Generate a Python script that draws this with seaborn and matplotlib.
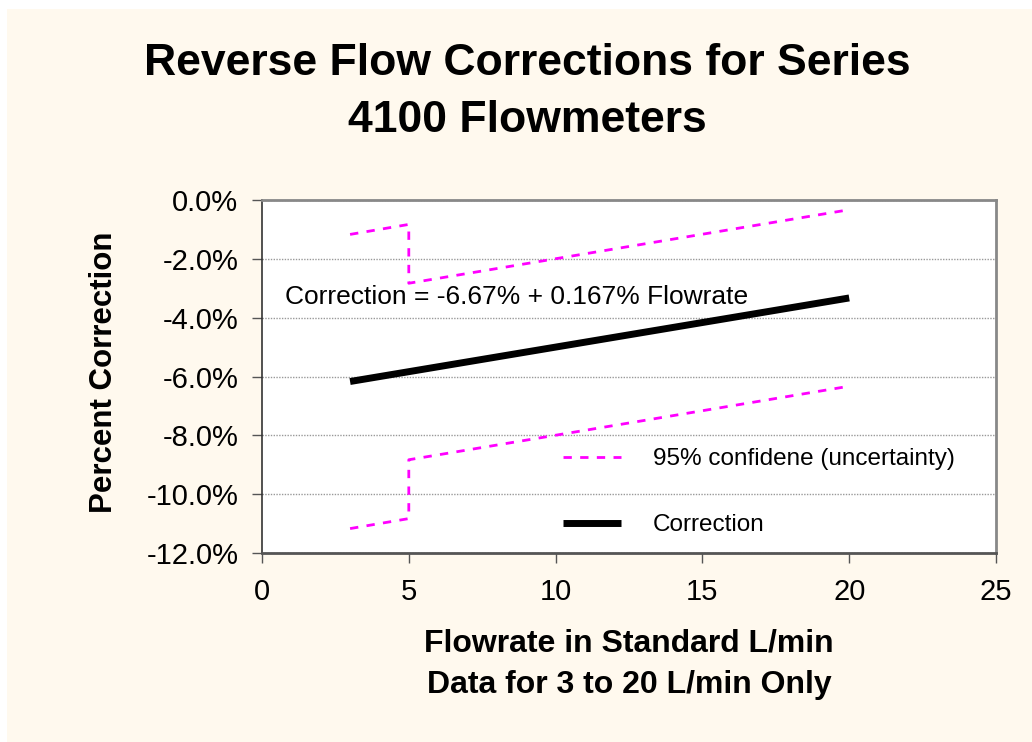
import matplotlib
matplotlib.use("Agg")
import matplotlib.pyplot as plt
import matplotlib.patches as mpatches
import seaborn as sns
import pandas as pd
from matplotlib.ticker import FuncFormatter, MultipleLocator

# ---- data ----
corr_flow = [3, 20]
corr_pct = [-6.17, -3.33]
band_flow = [3, 5, 5, 20]
band_upper = [-1.17, -0.83, -2.83, -0.33]
band_lower = [-11.17, -10.83, -8.83, -6.33]
title_text = "Reverse Flow Corrections for Series\n4100 Flowmeters"
xlabel_text = "Flowrate in Standard L/min\nData for 3 to 20 L/min Only"
ylabel_text = "Percent Correction"
eq_text = "Correction = -6.67% + 0.167% Flowrate"
band_label = "95% confidene (uncertainty)"
corr_label = "Correction"

sns.set_theme(style="white")
plt.rcParams['font.family'] = ['Liberation Sans', 'DejaVu Sans']
plt.rcParams['text.color'] = 'black'
plt.rcParams['axes.labelcolor'] = 'black'

W, H = 1032, 742
fig = plt.figure(figsize=(W / 100, H / 100), dpi=100, facecolor="white")
fig.patches.append(mpatches.Rectangle((7 / W, 0), 1 - 7 / W, 1 - 9 / H,
                                      transform=fig.transFigure,
                                      facecolor="#FFF9EE", edgecolor="none", zorder=-10))

ax = fig.add_axes([262 / W, 1 - 553 / H, (996 - 262) / W, (553 - 200) / H])
ax.set_zorder(5)
ax.set_facecolor("white")

df_up = pd.DataFrame({"x": band_flow, "y": band_upper})
df_lo = pd.DataFrame({"x": band_flow, "y": band_lower})
df_c = pd.DataFrame({"x": corr_flow, "y": corr_pct})

sns.lineplot(data=df_up, x="x", y="y", ax=ax, sort=False, estimator=None,
             color="#FF00FF", lw=2.0, linestyle=(0, (3, 3)),
             label=band_label, zorder=3)
sns.lineplot(data=df_lo, x="x", y="y", ax=ax, sort=False, estimator=None,
             color="#FF00FF", lw=2.0, linestyle=(0, (3, 3)), zorder=3)
sns.lineplot(data=df_c, x="x", y="y", ax=ax, sort=False, estimator=None,
             color="black", lw=5, label=corr_label, zorder=4)
for ln in ax.lines[-1:]:
    ln.set_solid_capstyle("butt")

ax.set_xlim(0, 25)
ax.set_ylim(-12, 0)
ax.xaxis.set_major_locator(MultipleLocator(5))
ax.yaxis.set_major_locator(MultipleLocator(2))
ax.yaxis.set_major_formatter(FuncFormatter(lambda v, p: f"{v:.1f}%"))
ax.grid(axis="y", color="#999999", linestyle=(0, (1, 1)), lw=1.0)
ax.set_axisbelow(True)

for s in ["top", "right", "bottom"]:
    ax.spines[s].set_color("#888888")
    ax.spines[s].set_linewidth(2)
ax.spines["bottom"].set_color("#555555")
ax.spines["left"].set_color("#333333")
ax.spines["left"].set_linewidth(1.2)

ax.tick_params(axis="both", which="major", direction="out", length=7,
               width=1, color="#555555", labelsize=21, labelcolor="black")
ax.tick_params(axis="y", left=True, pad=10)
ax.tick_params(axis="x", bottom=True, pad=11)

ax.set_xlabel(xlabel_text, fontsize=23, fontweight="bold", linespacing=1.5)
ax.xaxis.label.set_va("center")
ax.xaxis.set_label_coords((629 - 262) / 734, (553 - 664) / 353)
ax.set_ylabel(ylabel_text, fontsize=22.5, fontweight="bold")
ax.yaxis.label.set_va("center")
ax.yaxis.set_label_coords((104 - 262) / 734, (553 - 372) / 353)

fig.text(527 / W, 1 - 92 / H, title_text, ha="center", va="center",
         fontsize=32, fontweight="bold", linespacing=1.5, color="black")

ax.text(0.8, -3.3, eq_text, fontsize=19, ha="left", va="center", zorder=5, color="black")

leg = ax.legend(loc="lower left", bbox_to_anchor=(0.38, -0.014), frameon=False,
                fontsize=17.5, handlelength=2.4, handletextpad=1.3, labelspacing=1.8)

fig.savefig("out.png", dpi=100, facecolor=fig.get_facecolor())
